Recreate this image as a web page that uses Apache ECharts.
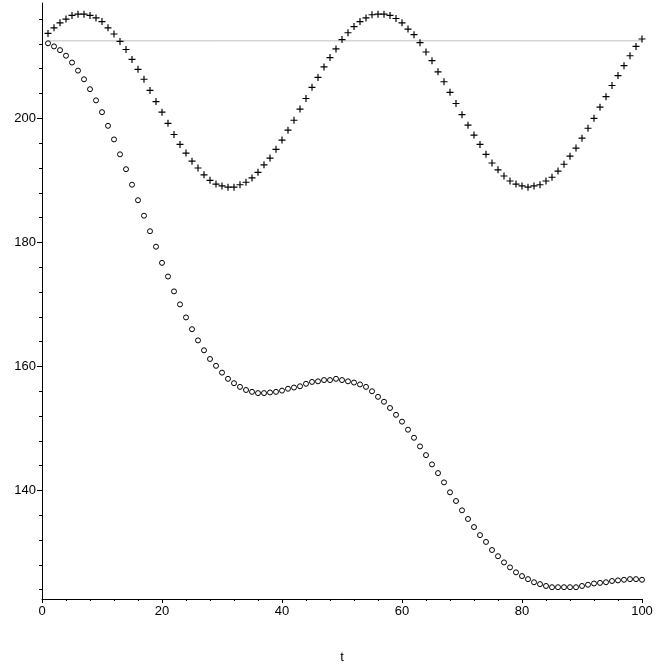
<!DOCTYPE html>
<html>
<head>
<meta charset="utf-8">
<script src="https://cdn.jsdelivr.net/npm/echarts@6/dist/echarts.min.js"></script>
<style>
  html, body { margin: 0; padding: 0; background: #fff; }
  #chart { width: 669px; height: 669px; }
</style>
</head>
<body>
<div id="chart"></div>
<script>
const tValues = [
  1, 2, 3, 4, 5, 6, 7, 8, 9, 10, 11, 12, 13, 14, 15, 16, 17, 18, 19, 20,
  21, 22, 23, 24, 25, 26, 27, 28, 29, 30, 31, 32, 33, 34, 35, 36, 37, 38, 39, 40,
  41, 42, 43, 44, 45, 46, 47, 48, 49, 50, 51, 52, 53, 54, 55, 56, 57, 58, 59, 60,
  61, 62, 63, 64, 65, 66, 67, 68, 69, 70, 71, 72, 73, 74, 75, 76, 77, 78, 79, 80,
  81, 82, 83, 84, 85, 86, 87, 88, 89, 90, 91, 92, 93, 94, 95, 96, 97, 98, 99, 100,
];

// "+" markers
const plusValues = [
  213.7, 214.6, 215.4, 216.0, 216.6, 216.8, 216.8, 216.6, 216.2, 215.6,
  214.6, 213.6, 212.4, 211.1, 209.5, 207.9, 206.3, 204.5, 202.7, 201.0,
  199.2, 197.4, 195.8, 194.4, 193.1, 192.0, 190.9, 190.0, 189.4, 189.1,
  188.9, 188.9, 189.3, 189.7, 190.4, 191.3, 192.5, 193.6, 195.0, 196.5,
  198.1, 199.7, 201.5, 203.2, 205.0, 206.6, 208.3, 209.8, 211.2, 212.7,
  213.8, 214.8, 215.6, 216.2, 216.7, 216.8, 216.8, 216.6, 216.1, 215.4,
  214.4, 213.5, 212.2, 210.7, 209.3, 207.5, 205.9, 204.2, 202.4, 200.6,
  198.9, 197.3, 195.8, 194.2, 192.8, 191.7, 190.7, 189.9, 189.4, 189.1,
  188.9, 189.1, 189.3, 189.9, 190.5, 191.5, 192.6, 193.9, 195.2, 196.8,
  198.4, 200.0, 201.8, 203.5, 205.3, 206.9, 208.5, 210.1, 211.6, 212.8,
];

// "o" markers
const circleValues = [
  212.1, 211.6, 211.0, 210.1, 209.0, 207.7, 206.3, 204.7, 202.9, 201.0,
  198.8, 196.6, 194.2, 191.8, 189.3, 186.8, 184.3, 181.8, 179.3, 176.7,
  174.5, 172.1, 170.0, 167.9, 166.0, 164.2, 162.6, 161.2, 160.1, 159.0,
  158.0, 157.3, 156.7, 156.2, 155.9, 155.7, 155.7, 155.8, 155.9, 156.1,
  156.4, 156.6, 156.8, 157.2, 157.5, 157.6, 157.8, 157.8, 158.0, 157.8,
  157.6, 157.4, 157.1, 156.7, 156.0, 155.1, 154.3, 153.3, 152.2, 151.1,
  149.8, 148.5, 147.1, 145.7, 144.2, 142.8, 141.3, 139.7, 138.3, 136.8,
  135.4, 134.1, 132.8, 131.7, 130.4, 129.4, 128.4, 127.6, 126.8, 126.2,
  125.7, 125.2, 124.9, 124.6, 124.4, 124.4, 124.4, 124.4, 124.4, 124.6,
  124.8, 125.0, 125.1, 125.2, 125.4, 125.5, 125.6, 125.7, 125.7, 125.6,
];

// thin grey horizontal line
const refLineT = [1, 100];
const refLineValue = [212.5, 212.5];

const xMajorTicks = [0, 20, 40, 60, 80, 100];
const xMinorTicks = [4, 8, 12, 16, 24, 28, 32, 36, 44, 48, 52, 56, 64, 68, 72, 76, 84, 88, 92, 96];
const yMajorTicks = [140, 160, 180, 200];
const yMinorTicks = [124, 128, 132, 136, 144, 148, 152, 156, 164, 168, 172, 176, 184, 188, 192, 196, 204, 208, 212, 216];

const X_MIN = 0;
const X_MAX = 100;
const Y_MIN = 122.5;
const Y_MAX = 218.6;

const fontFamily = 'Liberation Sans, Arial, sans-serif';
const plusSymbol = 'path://M0,5H5V0H7V5H12V7H7V12H5V7H0Z';

const chart = echarts.init(document.getElementById('chart'));

chart.setOption({
  animation: false,
  backgroundColor: '#fff',
  grid: { left: 42, right: 27, top: 3, bottom: 67 },
  xAxis: [
    {
      type: 'value',
      min: X_MIN,
      max: X_MAX,
      name: 't',
      nameLocation: 'middle',
      nameGap: 52,
      nameTextStyle: { color: '#000', fontSize: 13, fontFamily },
      axisLine: { lineStyle: { color: '#000', width: 1 } },
      axisTick: { customValues: xMajorTicks, length: 4, lineStyle: { color: '#000' } },
      axisLabel: { customValues: xMajorTicks, color: '#000', fontSize: 13, fontFamily, margin: 6 },
      splitLine: { show: false },
    },
    {
      type: 'value',
      min: X_MIN,
      max: X_MAX,
      position: 'bottom',
      axisLine: { show: false },
      axisTick: { customValues: xMinorTicks, length: 2, lineStyle: { color: '#000' } },
      axisLabel: { show: false },
      splitLine: { show: false },
    },
  ],
  yAxis: [
    {
      type: 'value',
      min: Y_MIN,
      max: Y_MAX,
      axisLine: { show: true, lineStyle: { color: '#000', width: 1 } },
      axisTick: { show: true, customValues: yMajorTicks, length: 5, lineStyle: { color: '#000' } },
      axisLabel: { customValues: yMajorTicks, color: '#000', fontSize: 13, fontFamily, margin: 6 },
      splitLine: { show: false },
    },
    {
      type: 'value',
      min: Y_MIN,
      max: Y_MAX,
      position: 'left',
      axisLine: { show: false },
      axisTick: { show: true, customValues: yMinorTicks, length: 3, lineStyle: { color: '#000' } },
      axisLabel: { show: false },
      splitLine: { show: false },
    },
  ],
  series: [
    {
      type: 'line',
      data: refLineT.map((t, i) => [t, refLineValue[i]]),
      showSymbol: false,
      lineStyle: { color: '#c0c0c0', width: 1 },
      silent: true,
      z: 1,
    },
    {
      type: 'scatter',
      data: tValues.map((t, i) => [t, plusValues[i]]),
      symbol: plusSymbol,
      symbolSize: 7,
      itemStyle: { color: '#000', opacity: 1 },
      z: 3,
    },
    {
      type: 'scatter',
      data: tValues.map((t, i) => [t, circleValues[i]]),
      symbol: 'circle',
      symbolSize: 5,
      itemStyle: { color: '#fff', borderColor: '#000', borderWidth: 1, opacity: 1 },
      z: 3,
    },
  ],
});
</script>
</body>
</html>
